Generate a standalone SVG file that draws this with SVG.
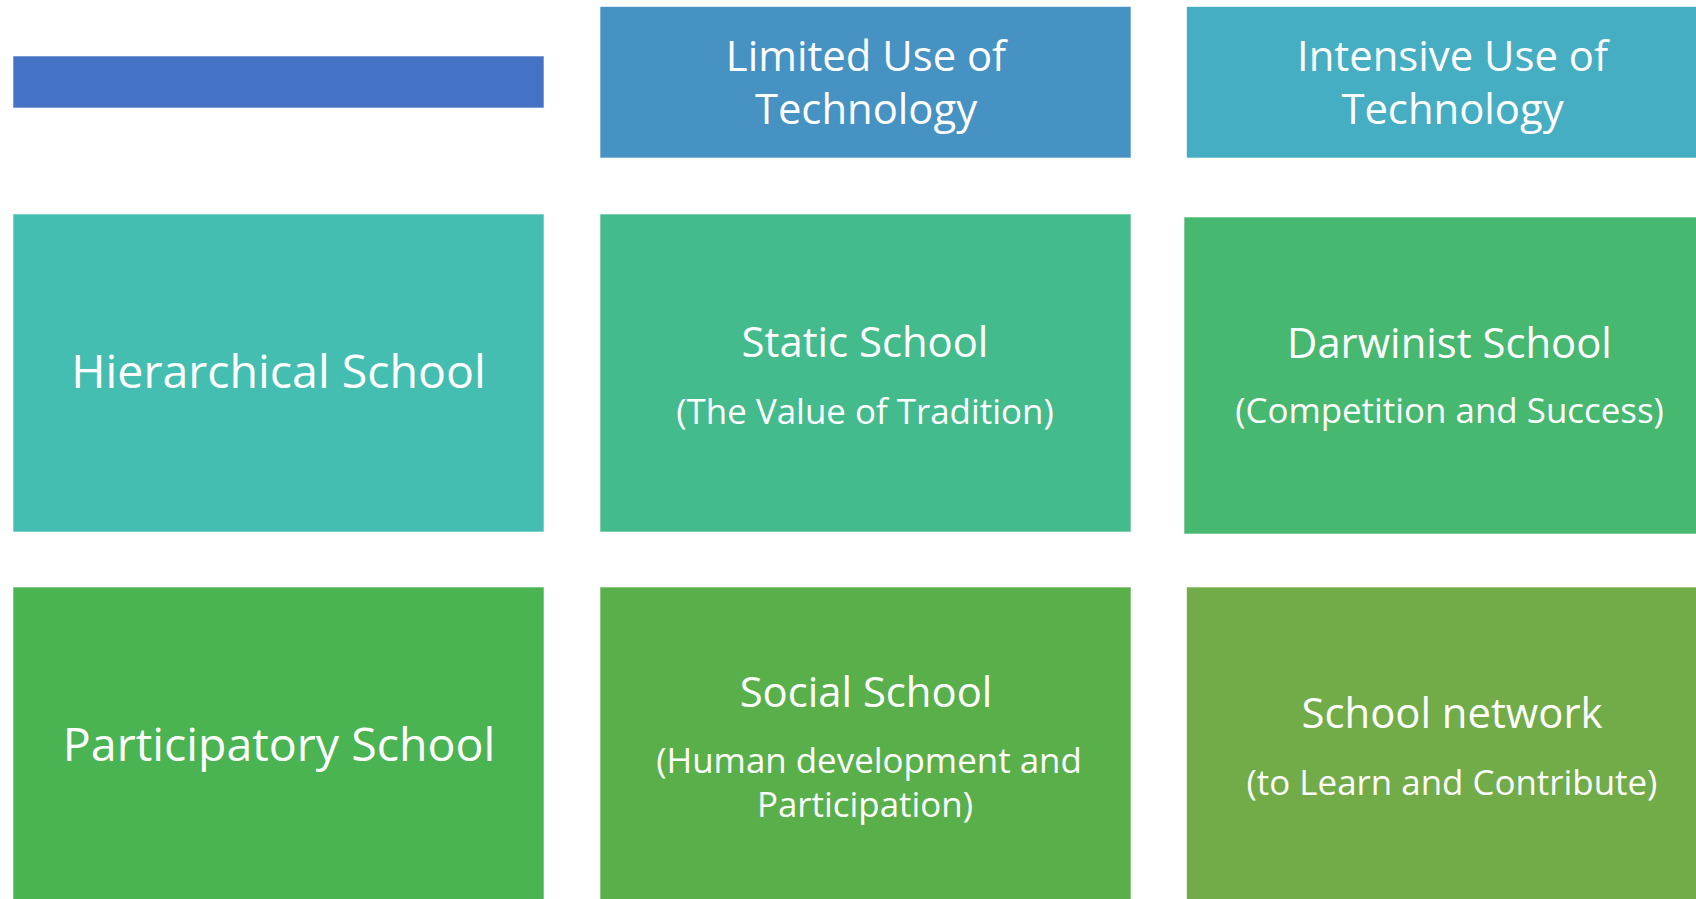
<svg xmlns="http://www.w3.org/2000/svg" width="1696" height="899" viewBox="0 0 1696 899">
<style>
.box{stroke:#ffffff;stroke-opacity:0.6;stroke-width:1}
text{font-family:"Open Sans","Noto Sans","Liberation Sans",sans-serif;fill:#ffffff;text-anchor:middle}
.big{font-size:46.5px}
.hd{font-size:41.8px}
.tt{font-size:41.8px}
.st{font-size:34.9px}
</style>
<rect width="1696" height="899" fill="#ffffff"/>
<g id="corner"><rect class="box" x="13" y="56" width="531" height="52" fill="#4472C4"/></g>
<g id="limited">
<rect class="box" x="600" y="6.5" width="531" height="151.5" fill="#4592C3"/>
<text class="hd" x="866" y="70.7">Limited Use of</text>
<text class="hd" x="866" y="124">Technology</text>
</g>
<g id="intensive">
<rect class="box" x="1186.5" y="6.5" width="532" height="151.5" fill="#45AEC2"/>
<text class="hd" x="1452.5" y="70.7">Intensive Use of</text>
<text class="hd" x="1452.5" y="124">Technology</text>
</g>
<g id="hierarchical">
<rect class="box" x="13" y="214" width="531" height="318" fill="#44BEB0"/>
<text class="big" x="278.5" y="388.3">Hierarchical School</text>
</g>
<g id="static">
<rect class="box" x="600" y="214" width="531" height="318" fill="#44BB8D"/>
<text class="tt" x="865" y="357">Static School</text>
<text class="st" x="865" y="424">(The Value of Tradition)</text>
</g>
<g id="darwinist">
<rect class="box" x="1184" y="217" width="534" height="317" fill="#46B870"/>
<text class="tt" x="1449.5" y="358.3">Darwinist School</text>
<text class="st" x="1449.5" y="423.3">(Competition and Success)</text>
</g>
<g id="participatory">
<rect class="box" x="13" y="587" width="531" height="318" fill="#4AB452"/>
<text class="big" x="279" y="761">Participatory School</text>
</g>
<g id="social">
<rect class="box" x="600" y="587" width="531" height="318" fill="#59B04A"/>
<text class="tt" x="866" y="707.3">Social School</text>
<text class="st" x="869" y="773.3">(Human development and</text>
<text class="st" x="865" y="816.7">Participation)</text>
</g>
<g id="network">
<rect class="box" x="1186.5" y="587" width="532" height="318" fill="#71AC48"/>
<text class="tt" x="1452" y="728.3">School network</text>
<text class="st" x="1452" y="795">(to Learn and Contribute)</text>
</g>
<g id="connectors"></g>
</svg>
